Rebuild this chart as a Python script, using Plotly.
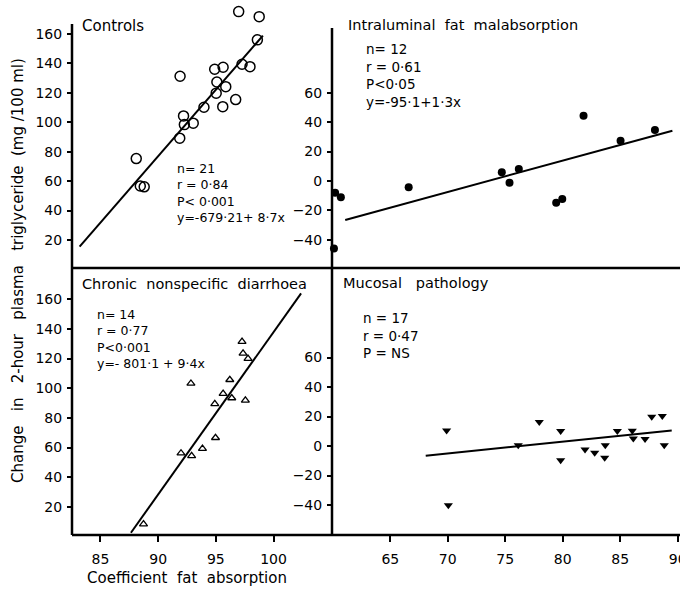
import plotly.graph_objects as go

# ---------------- data ----------------
ctrl_x = [96.98, 98.76, 98.6, 97.27, 97.96, 94.9, 95.63, 91.9, 95.09, 95.03, 95.86,
          96.72, 95.6, 93.97, 92.2, 92.27, 93.04, 91.87, 88.1, 88.45, 88.79]
ctrl_y = [175.2, 171.8, 156.0, 139.4, 137.8, 136.0, 137.4, 131.3, 127.4, 119.8, 124.2,
          115.4, 110.6, 110.2, 104.3, 98.4, 99.4, 89.2, 75.3, 56.7, 56.1]
ctrl_line_x = [83.19, 99.08]
ctrl_line_y = [15.5, 158.9]

ifm_x = [81.81, 88.02, 85.03, 76.18, 74.7, 75.37, 66.6, 79.96, 79.43, 60.2, 60.7, 60.1]
ifm_y = [44.4, 34.7, 27.4, 8.2, 5.9, -1.1, -4.3, -12.2, -14.7, -8.0, -11.1, -45.8]
ifm_line_x = [61.08, 89.54]
ifm_line_y = [-26.5, 34.2]

cnsd_x = [97.27, 97.36, 97.79, 92.84, 96.21, 95.63, 96.38, 94.91, 97.56, 94.97,
          93.84, 91.98, 92.9, 88.73]
cnsd_y = [131.4, 123.5, 119.9, 103.2, 105.7, 96.3, 93.4, 89.5, 91.8, 66.6,
          59.3, 56.2, 54.4, 8.4]
cnsd_line_x = [87.64, 102.39]
cnsd_line_y = [2.6, 163.9]

muc_x = [69.9, 70.05, 76.13, 77.96, 79.82, 79.82, 81.94, 82.78, 83.7, 83.65,
         84.75, 86.05, 86.14, 87.16, 87.74, 88.66, 88.83]
muc_y = [10.6, -40.2, 0.5, 16.3, 10.2, -9.7, -2.3, -4.5, 0.5, -7.9,
         10.2, 10.4, 5.2, 4.7, 19.9, 20.3, 0.5]
muc_line_x = [68.08, 89.48]
muc_line_y = [-6.6, 10.6]

left_yticks = [20, 40, 60, 80, 100, 120, 140, 160]
right_yticks = [-40, -20, 0, 20, 40, 60]
left_xticks = [85, 90, 95, 100]
right_xticks = [65, 70, 75, 80, 85, 90]

NB = "\u00a0"
titles = ["Controls", f"Intraluminal{NB} fat{NB} malabsorption",
          f"Chronic{NB} nonspecific{NB} diarrhoea", f"Mucosal{NB}{NB} pathology"]
ctrl_stats = ["n= 21", "r = 0·84", "P< 0·001", "y=-679·21+ 8·7x"]
ifm_stats = ["n= 12", "r = 0·61", "P<0·05", "y=-95·1+1·3x"]
cnsd_stats = ["n= 14", "r = 0·77", "P<0·001", "y=- 801·1 + 9·4x"]
muc_stats = ["n = 17", "r = 0·47", "P = NS"]

x_title = f"Coefficient{NB} fat{NB} absorption"
y_title = (f"Change{NB}{NB} in{NB}{NB} 2-hour{NB}{NB} plasma{NB}{NB} "
           f"triglyceride{NB} (mg /100 ml)")

# ---------------- layout helpers ----------------
W, H = 680, 590
ML, MR, MT, MB = 72, 0, 0, 55
PW = W - ML - MR
PH = H - MT - MB


def px(x):
    return (x - ML) / PW


def py(y):
    return (H - MB - y) / PH


XS, YS = 332, 268
FONT = "DejaVu Sans"

fig = go.Figure()

mk_line = dict(color="black", width=2)

# Controls
fig.add_trace(go.Scatter(x=ctrl_line_x, y=ctrl_line_y, mode="lines", line=mk_line,
                         xaxis="x", yaxis="y"))
fig.add_trace(go.Scatter(x=ctrl_x, y=ctrl_y, mode="markers", cliponaxis=False,
                         marker=dict(symbol="circle-open", size=10, color="black",
                                     line=dict(width=1.5, color="black")),
                         xaxis="x", yaxis="y"))
# IFM
fig.add_trace(go.Scatter(x=ifm_line_x, y=ifm_line_y, mode="lines", line=mk_line,
                         xaxis="x2", yaxis="y2"))
fig.add_trace(go.Scatter(x=ifm_x, y=ifm_y, mode="markers", cliponaxis=False,
                         marker=dict(symbol="circle", size=8, color="black"),
                         xaxis="x2", yaxis="y2"))
# CNSD
fig.add_trace(go.Scatter(x=cnsd_line_x, y=cnsd_line_y, mode="lines", line=mk_line,
                         xaxis="x3", yaxis="y3"))
fig.add_trace(go.Scatter(x=cnsd_x, y=cnsd_y, mode="markers", cliponaxis=False,
                         marker=dict(symbol="triangle-up-open", size=7, color="black",
                                     line=dict(width=1.3, color="black")),
                         xaxis="x3", yaxis="y3"))
# Mucosal
fig.add_trace(go.Scatter(x=muc_line_x, y=muc_line_y, mode="lines", line=mk_line,
                         xaxis="x4", yaxis="y4"))
fig.add_trace(go.Scatter(x=muc_x, y=muc_y, mode="markers", cliponaxis=False,
                         marker=dict(symbol="triangle-down", size=8, color="black"),
                         xaxis="x4", yaxis="y4"))

hidden_x = dict(showticklabels=False, ticks="", showgrid=False, zeroline=False,
                showline=False, automargin=False)
ytick_style = dict(ticks="outside", ticklen=4, tickwidth=2, tickcolor="black",
                   showgrid=False, zeroline=False, showline=False, automargin=False,
                   tickfont=dict(family=FONT, size=14, color="black"),
                   ticklabelstandoff=2, ticklabeloverflow="allow")
xtick_style = dict(ticks="outside", ticklen=6, tickwidth=2, tickcolor="black",
                   showgrid=False, zeroline=False, showline=False, automargin=False,
                   tickfont=dict(family=FONT, size=14, color="black"),
                   ticklabelstandoff=5, ticklabeloverflow="allow")

LX = [82.53, 105.07]
RX = [59.93, 90.2]

fig.update_layout(
    template="none",
    width=W, height=H,
    margin=dict(l=ML, r=MR, t=MT, b=MB, autoexpand=False),
    paper_bgcolor="white", plot_bgcolor="white",
    showlegend=False,
    font=dict(family=FONT, color="black"),
    xaxis=dict(domain=[0, px(XS)], range=LX, anchor="y", **hidden_x),
    yaxis=dict(domain=[py(YS), 1], range=[0.95, 183.1], anchor="x",
               tickvals=left_yticks, **ytick_style),
    xaxis2=dict(domain=[px(XS), 1], range=RX, anchor="y2", **hidden_x),
    yaxis2=dict(domain=[py(YS), 1], range=[-59.1, 123.0], anchor="x2",
                tickvals=right_yticks, **ytick_style),
    xaxis3=dict(domain=[0, px(XS)], range=LX, anchor="y3",
                tickvals=left_xticks, **xtick_style),
    yaxis3=dict(domain=[0, py(YS)], range=[1.08, 181.0], anchor="x3",
                tickvals=left_yticks, **ytick_style),
    xaxis4=dict(domain=[px(XS), 1], range=RX, anchor="y4",
                tickvals=right_xticks, **xtick_style),
    yaxis4=dict(domain=[0, py(YS)], range=[-60.3, 120.7], anchor="x4",
                tickvals=right_yticks, **ytick_style),
)

# frame lines
LW = 2.5
shapes = [
    dict(type="line", xref="paper", yref="paper", x0=px(72), x1=px(72), y0=py(24), y1=0),
    dict(type="line", xref="paper", yref="paper", x0=px(XS), x1=px(XS), y0=py(28), y1=0),
    dict(type="line", xref="paper", yref="paper", x0=0, x1=1, y0=py(YS), y1=py(YS)),
    dict(type="line", xref="paper", yref="paper", x0=0, x1=1, y0=0, y1=0),
]
for s in shapes:
    s["line"] = dict(color="black", width=LW)
fig.update_layout(shapes=shapes)

ann = []


def text(x, y, s, size=13, **kw):
    d = dict(xref="paper", yref="paper", x=px(x), y=py(y), text=s, showarrow=False,
             xanchor="left", yanchor="middle", align="left", borderpad=0,
             font=dict(family=FONT, size=size, color="black"))
    d.update(kw)
    ann.append(d)


# panel titles
text(81, 26, titles[0], size=15)
text(347, 25, titles[1], size=14.5)
text(81, 284, titles[2], size=14.5)
text(342, 283, titles[3], size=14.5)

# stats blocks (multi-line)
text(176, 192.5, "<br>".join(ctrl_stats), size=12.5)
text(365, 75, "<br>".join(ifm_stats), size=13.5)
text(96, 338.5, "<br>".join(cnsd_stats), size=12.5)
text(362, 335.5, "<br>".join(muc_stats), size=13.5)

# axis titles
ann.append(dict(xref="paper", yref="paper", x=px(187), y=py(578), text=x_title,
                showarrow=False, xanchor="center", yanchor="middle",
                font=dict(family=FONT, size=15, color="black")))
ann.append(dict(xref="paper", yref="paper", x=px(18), y=py(271), text=y_title,
                showarrow=False, xanchor="center", yanchor="middle", textangle=-90,
                font=dict(family=FONT, size=15, color="black")))

fig.update_layout(annotations=ann)

fig.write_html("out.html", config={"displayModeBar": False},
               post_script="document.body.style.margin='0';document.body.style.padding='0';")
